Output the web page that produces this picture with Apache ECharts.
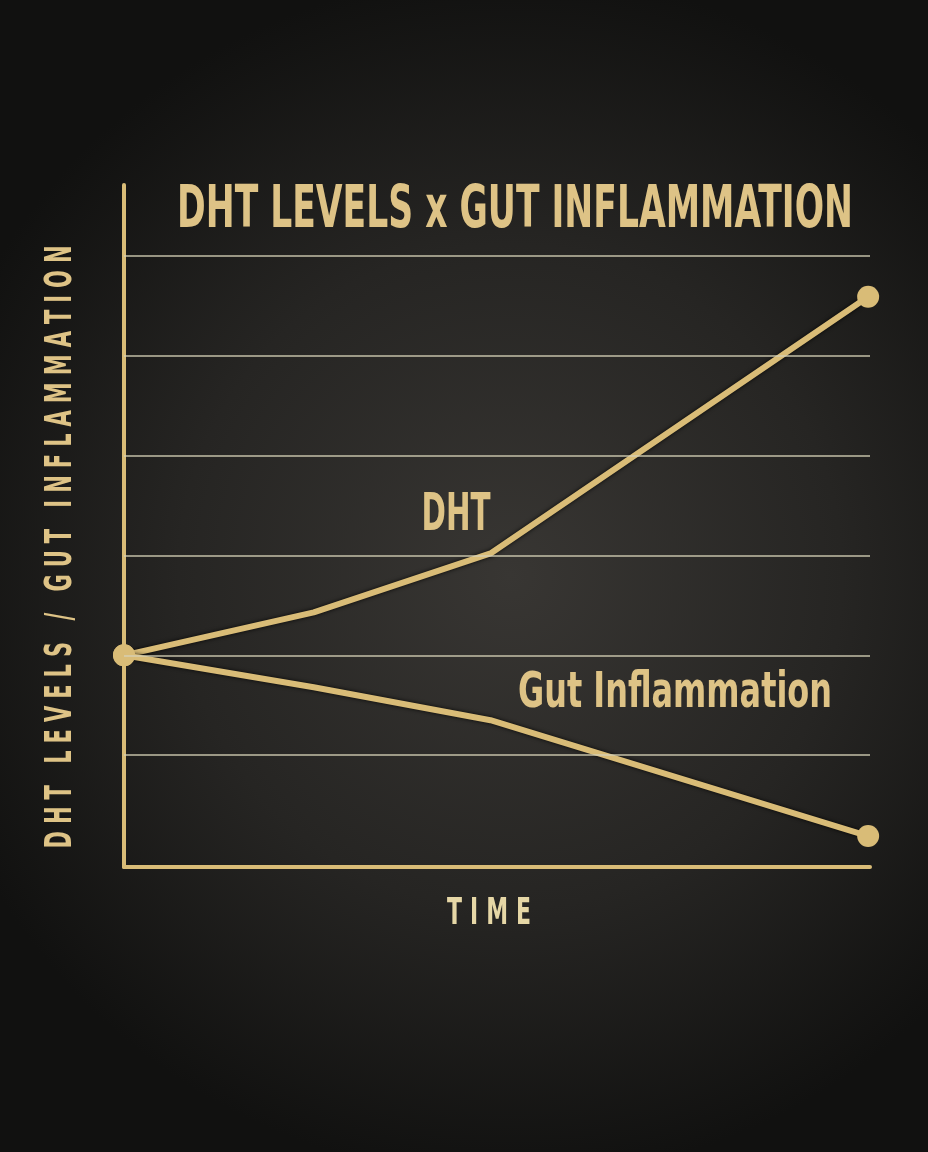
<!DOCTYPE html>
<html>
<head>
<meta charset="utf-8">
<script src="https://cdn.jsdelivr.net/npm/echarts@6/dist/echarts.min.js"></script>
<style>
  html, body { margin: 0; padding: 0; background: #181716; }
  #main { width: 928px; height: 1152px; }
</style>
</head>
<body>
<div id="main"></div>
<script>
// time positions of the points (0 = start, 4 = end of the x axis)
const xValues = [0, 1.02, 1.97, 4]
const dhtValues = [2.0, 2.43, 3.02, 5.59]
const gutValues = [2.0, 1.68, 1.35, 0.19]
// horizontal rules across the plot
const gridLevels = [1, 2, 3, 4, 5, 6]
// points that carry a round dot
const markerIndexes = [0, 3]

const GOLD = '#d9bc77'
const TEXT_GOLD = '#dec386'
const RULE = '#d6d0b6'
const FONT = '"DejaVu Sans Condensed", "DejaVu Sans", sans-serif'

const measureCtx = document.createElement('canvas').getContext('2d')
function textWidth(str, size, weight) {
  measureCtx.font = `${weight} ${size}px ${FONT}`
  return measureCtx.measureText(str).width
}

// single line of text squeezed to a target width
function fitText(str, cx, cy, size, width, color, weight = 'bold') {
  const w = textWidth(str, size, weight)
  return {
    type: 'text',
    x: cx,
    y: cy,
    scaleX: width / w,
    silent: true,
    style: {
      text: str,
      fill: color,
      fontSize: size,
      fontWeight: weight,
      fontFamily: FONT,
      align: 'center',
      verticalAlign: 'middle',
    },
  }
}

// letter-spaced text, built letter by letter, squeezed to a target length
function spacedText(str, cx, cy, size, length, gap, color, rotation = 0, weight = 'bold') {
  const chars = [...str]
  const widths = chars.map((c) => textWidth(c, size, weight))
  const raw = widths.reduce((a, b) => a + b, 0)
  const scale = (length - gap * (chars.length - 1)) / raw
  let x = -length / 2 / scale
  const children = chars.map((c, i) => {
    const el = {
      type: 'text',
      x: x,
      y: 0,
      silent: true,
      style: {
        text: c,
        fill: color,
        fontSize: size,
        fontWeight: weight,
        fontFamily: FONT,
        align: 'left',
        verticalAlign: 'middle',
      },
    }
    x += widths[i] + gap / scale
    return el
  })
  return { type: 'group', x: cx, y: cy, rotation, scaleX: scale, children }
}

function pairs(xs, ys) {
  return xs.map((x, i) => [x, ys[i]])
}

function dataLine(name, values) {
  return {
    name,
    type: 'line',
    z: 3,
    data: pairs(xValues, values),
    showAllSymbol: true,
    symbol: 'circle',
    symbolSize: (val, params) => (markerIndexes.includes(params.dataIndex) ? 22 : 0),
    itemStyle: { color: GOLD },
    lineStyle: {
      color: GOLD,
      width: 6,
      shadowColor: 'rgba(0,0,0,0.85)',
      shadowBlur: 4,
    },
    silent: true,
  }
}

function main() {
  const chart = echarts.init(document.getElementById('main'))
  chart.setOption({
    animation: false,
    backgroundColor: '#181716',
    grid: { left: 124, right: 58, top: 185, bottom: 285 },
    xAxis: {
      type: 'value',
      min: 0,
      max: 4.01,
      axisLine: { show: true, onZero: false, lineStyle: { color: GOLD, width: 4 } },
      axisTick: { show: false },
      axisLabel: { show: false },
      splitLine: { show: false },
    },
    yAxis: {
      type: 'value',
      min: -0.12,
      max: 6.71,
      axisLine: { show: true, onZero: false, lineStyle: { color: GOLD, width: 4 } },
      axisTick: { show: false },
      axisLabel: { show: false },
      splitLine: { show: false },
    },
    graphic: [
      {
        type: 'rect',
        z: -10,
        silent: true,
        shape: { x: 0, y: 0, width: 928, height: 1152 },
        style: {
          fill: {
            type: 'radial',
            x: 0.55,
            y: 0.5,
            r: 0.65,
            colorStops: [
              { offset: 0, color: '#383633' },
              { offset: 0.55, color: '#262523' },
              { offset: 1, color: '#111110' },
            ],
          },
        },
      },
      fitText('DHT LEVELS x GUT INFLAMMATION', 515, 212, 58, 676, TEXT_GOLD),
      spacedText('DHT LEVELS / GUT INFLAMMATION', 61, 547, 37, 603, 7, TEXT_GOLD, Math.PI / 2),
      spacedText('TIME', 489, 914, 38, 84, 8, '#e6d7a6'),
      fitText('DHT', 456, 516, 52, 69, TEXT_GOLD),
      fitText('Gut Inflammation', 675, 694, 49, 314, TEXT_GOLD),
    ],
    series: [
      {
        name: 'rules',
        type: 'line',
        z: 1,
        data: [],
        silent: true,
        markLine: {
          silent: true,
          symbol: ['none', 'none'],
          label: { show: false },
          lineStyle: { color: RULE, width: 1.5, type: 'solid', opacity: 0.9 },
          data: gridLevels.map((v) => ({ yAxis: v })),
        },
      },
      dataLine('DHT', dhtValues),
      dataLine('Gut Inflammation', gutValues),
    ],
  })
}

window.onload = main
</script>
</body>
</html>
